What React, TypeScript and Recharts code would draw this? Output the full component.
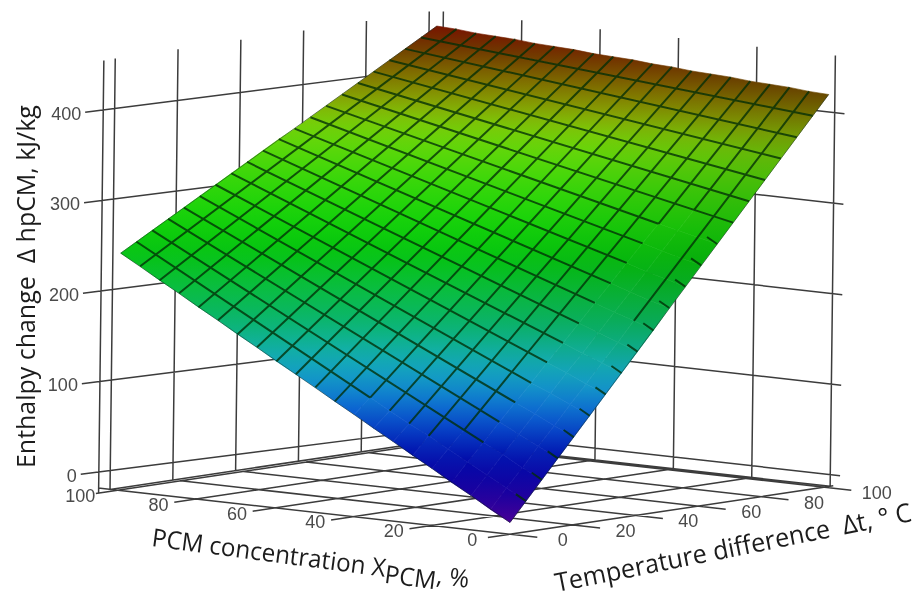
import React from 'react';
import { ScatterChart, Scatter, XAxis, YAxis } from 'recharts';

// grid of the surface, every 5 units
const concentration = [0, 5, 10, 15, 20, 25, 30, 35, 40, 45, 50, 55, 60, 65, 70, 75, 80, 85, 90, 95, 100];
const tempDiff = [0, 5, 10, 15, 20, 25, 30, 35, 40, 45, 50, 55, 60, 65, 70, 75, 80, 85, 90, 95, 100];

// enthalpy change, one row per concentration, one column per temperature difference
const enthalpy = [
  [0, 21, 42, 63, 84, 105, 126, 147, 168, 189, 211, 232, 253, 274, 295, 316, 337, 358, 379, 400, 421],
  [12, 33, 53, 74, 94, 115, 135, 156, 176, 197, 217, 238, 258, 279, 299, 320, 340, 361, 381, 402, 422],
  [25, 45, 65, 85, 105, 125, 145, 164, 184, 204, 224, 244, 264, 284, 304, 324, 344, 364, 384, 404, 424],
  [37, 57, 76, 96, 115, 134, 154, 173, 192, 212, 231, 251, 270, 289, 309, 328, 348, 367, 386, 406, 425],
  [50, 69, 87, 106, 125, 144, 163, 182, 200, 219, 238, 257, 276, 295, 313, 332, 351, 370, 389, 408, 426],
  [62, 81, 99, 117, 135, 154, 172, 190, 208, 227, 245, 263, 282, 300, 318, 336, 355, 373, 391, 410, 428],
  [75, 92, 110, 128, 146, 163, 181, 199, 216, 234, 252, 270, 287, 305, 323, 341, 358, 376, 394, 411, 429],
  [87, 104, 121, 139, 156, 173, 190, 207, 224, 242, 259, 276, 293, 310, 327, 345, 362, 379, 396, 413, 430],
  [100, 116, 133, 149, 166, 183, 199, 216, 232, 249, 266, 282, 299, 316, 332, 349, 365, 382, 399, 415, 432],
  [112, 128, 144, 160, 176, 192, 208, 224, 240, 257, 273, 289, 305, 321, 337, 353, 369, 385, 401, 417, 433],
  [125, 140, 156, 171, 187, 202, 218, 233, 249, 264, 280, 295, 311, 326, 342, 357, 373, 388, 404, 419, 435],
  [137, 152, 167, 182, 197, 212, 227, 242, 256, 271, 286, 301, 316, 331, 346, 361, 376, 391, 406, 421, 436],
  [149, 164, 178, 193, 207, 221, 236, 250, 265, 279, 293, 308, 322, 336, 351, 365, 380, 394, 408, 423, 437],
  [162, 176, 190, 203, 217, 231, 245, 259, 273, 286, 300, 314, 328, 342, 356, 369, 383, 397, 411, 425, 439],
  [174, 188, 201, 214, 227, 241, 254, 267, 281, 294, 307, 320, 334, 347, 360, 373, 387, 400, 413, 427, 440],
  [187, 199, 212, 225, 238, 250, 263, 276, 289, 301, 314, 327, 339, 352, 365, 378, 390, 403, 416, 429, 441],
  [199, 211, 224, 236, 248, 260, 272, 284, 297, 309, 321, 333, 345, 357, 370, 382, 394, 406, 418, 430, 443],
  [212, 223, 235, 247, 258, 270, 281, 293, 305, 316, 328, 339, 351, 363, 374, 386, 397, 409, 421, 432, 444],
  [224, 235, 246, 257, 268, 279, 290, 302, 313, 324, 335, 346, 357, 368, 379, 390, 401, 412, 423, 434, 445],
  [237, 247, 258, 268, 279, 289, 300, 310, 321, 331, 342, 352, 363, 373, 384, 394, 405, 415, 426, 436, 447],
  [249, 259, 269, 279, 289, 299, 309, 319, 329, 339, 349, 358, 368, 378, 388, 398, 408, 418, 428, 438, 448],
];

const enthalpyTicks = [0, 100, 200, 300, 400];
const floorTicks = [0, 20, 40, 60, 80, 100];

// colour against enthalpy
const colorStops: [number, number[]][] = [
  [0, [72, 0, 150]],
  [30, [20, 0, 160]],
  [60, [0, 10, 170]],
  [100, [10, 90, 210]],
  [130, [20, 150, 205]],
  [155, [20, 175, 180]],
  [185, [10, 180, 110]],
  [220, [10, 190, 60]],
  [250, [5, 195, 15]],
  [280, [20, 210, 10]],
  [315, [55, 215, 10]],
  [350, [100, 215, 10]],
  [370, [125, 200, 8]],
  [385, [135, 165, 5]],
  [400, [130, 130, 0]],
  [415, [125, 95, 0]],
  [430, [110, 60, 0]],
  [448, [120, 20, 0]],
];

const FLOOR = -13;
const TOP = 463;
const LEFT_WALL = 102;
const RIGHT_WALL = 102;
const AXIS = '#3c3c3c';

// 3D box to page pixels, the X and Y axes below are just the page
const project = (x: number, t: number, z: number) => ({
  sx: 510 - 3.92 * x + 3.14 * t + 0.011 * z,
  sy: 522.5 - 0.44 * x - 0.47 * t - 0.905 * z,
});

// the green part of the low concentration side is a bit darker in the original
const colorFor = (z: number, shade: number) => {
  const k2 = 1 - (1 - shade) * Math.max(0, Math.min(1, (z - 130) / 110));
  for (let i = 1; i < colorStops.length; i++) {
    const [z1, c1] = colorStops[i];
    if (z <= z1) {
      const [z0, c0] = colorStops[i - 1];
      const k = (z - z0) / (z1 - z0);
      const c = c0.map((v, j) => Math.round((v + (c1[j] - v) * k) * k2));
      return `rgb(${c[0]},${c[1]},${c[2]})`;
    }
  }
  return 'rgb(120,20,0)';
};

// surface cells, 4 corners each
const cellPoints: { sx: number; sy: number }[] = [];
const cellZ: number[][] = [];
const cellShade: number[] = [];
for (let i = 0; i < concentration.length - 1; i++) {
  for (let j = 0; j < tempDiff.length - 1; j++) {
    const corners: [number, number][] = [[i, j], [i + 1, j], [i + 1, j + 1], [i, j + 1]];
    cellZ.push(corners.map(([a, b]) => enthalpy[a][b]));
    cellShade.push(0.88 + 0.12 * Math.min(1, concentration[i] / 40));
    corners.forEach(([a, b]) => cellPoints.push(project(concentration[a], tempDiff[b], enthalpy[a][b])));
  }
}

const surfacePoint = (i: number, j: number) => project(concentration[i], tempDiff[j], enthalpy[i][j]);

// mesh lines, the mesh is missing near the low concentration edge of the original
const meshPoints: { sx: number; sy: number }[] = [];
const last = concentration.length - 1;
for (let j = 1; j < last; j++) {
  const t = tempDiff[j];
  const start = t >= 70 ? 0 : t >= 10 ? 3 : 8;
  if (t < 70) meshPoints.push(surfacePoint(0, j), project(2.6, t, enthalpy[0][j] + 6.5));
  meshPoints.push(surfacePoint(start, j), surfacePoint(last, j));
}
for (let i = 1; i < last; i++) {
  const x = concentration[i];
  const start = x === 5 ? 9 : x === 10 ? 14 : x === 15 ? 13 : x === 20 ? 2 : x <= 40 ? 1 : 0;
  meshPoints.push(surfacePoint(i, start), surfacePoint(i, last));
}

// thin outline on three sides of the surface
const edgePoints = [
  surfacePoint(last, 0), surfacePoint(last, last),
  surfacePoint(0, 0), surfacePoint(last, 0),
  surfacePoint(0, 0), surfacePoint(0, last),
];

// walls and floor
const wallPoints: { sx: number; sy: number }[] = [];
const seg = (a: number[], b: number[]) => wallPoints.push(project(a[0], a[1], a[2]), project(b[0], b[1], b[2]));
floorTicks.forEach((v) => {
  seg([LEFT_WALL, v, FLOOR], [LEFT_WALL, v, TOP]);
  seg([v, RIGHT_WALL, FLOOR], [v, RIGHT_WALL, TOP]);
  seg([v, -7, FLOOR], [v, 100, FLOOR]);
  seg([-7, v, FLOOR], [100, v, FLOOR]);
});
enthalpyTicks.forEach((z) => {
  seg([109.5, 0, z], [LEFT_WALL, 100, z]);
  seg([-2.5, RIGHT_WALL, z], [LEFT_WALL, RIGHT_WALL, z]);
});
seg([LEFT_WALL, 0, FLOOR], [LEFT_WALL, 100, FLOOR]);
seg([0, RIGHT_WALL, FLOOR], [100, RIGHT_WALL, FLOOR]);
seg([105, 0, FLOOR], [0, 0, FLOOR]);
seg([0, 0, FLOOR], [0, 103, FLOOR]);
seg([104.5, -0.5, -19], [104.5, -0.5, 460]);

// tick labels, placed off the box like the original
const tickLabels = [
  ...enthalpyTicks.map((z) => ({ ...project(110.5, 0, z - 2), text: String(z), anchor: 'end' })),
  ...floorTicks.map((v) => ({ ...project(v, -12, FLOOR), text: String(v), anchor: 'middle' })),
  ...floorTicks.map((v) => ({ ...project(-13.5, v, FLOOR), text: String(v), anchor: 'middle' })),
];

const SurfaceCells = ({ points }: any) => (
  <g>
    {cellZ.map((zs, n) => {
      const pts = points.slice(n * 4, n * 4 + 4);
      const ys = pts.map((p: any) => p.y);
      const top = Math.min(...ys);
      const bottom = Math.max(...ys);
      const id = `cell-${n}`;
      return (
        <g key={id}>
          <linearGradient id={id} gradientUnits="userSpaceOnUse" x1={0} x2={0} y1={top} y2={bottom}>
            <stop offset="0" stopColor={colorFor(Math.max(...zs), cellShade[n])} />
            <stop offset="1" stopColor={colorFor(Math.min(...zs), cellShade[n])} />
          </linearGradient>
          <polygon
            points={pts.map((p: any) => `${p.x},${p.y}`).join(' ')}
            fill={`url(#${id})`}
            stroke={`url(#${id})`}
            strokeWidth={0.6}
          />
        </g>
      );
    })}
  </g>
);

const Segments = ({ points, color, width }: any) => {
  let d = '';
  for (let i = 0; i + 1 < points.length; i += 2) {
    d += `M${points[i].x},${points[i].y}L${points[i + 1].x},${points[i + 1].y}`;
  }
  return <path d={d} fill="none" stroke={color} strokeWidth={width} />;
};

const NoDot = () => <g />;

const TickLabel = ({ cx, cy, payload }: any) => (
  <text x={cx} y={cy} dy={6} textAnchor={payload.anchor} fontFamily="Liberation Sans" fontSize={18} fill="#4a4a4a">
    {payload.text}
  </text>
);

const titleStyle = { fontFamily: 'Open Sans', fontSize: 26, fill: '#1c1c1c', style: { whiteSpace: 'pre' as const } };

export default function App() {
  return (
    <div style={{ position: 'absolute', left: 0, top: 0, width: 917, height: 601, filter: 'blur(0.5px)' }}>
      <ScatterChart width={917} height={601} margin={{ top: 0, right: 0, bottom: 0, left: 0 }}>
        <XAxis dataKey="sx" type="number" domain={[0, 917]} hide />
        <YAxis dataKey="sy" type="number" domain={[0, 601]} reversed hide />
        <Scatter
          data={wallPoints}
          isAnimationActive={false}
          shape={NoDot}
          line={(p: any) => <Segments points={p.points} color={AXIS} width={1.5} />}
        />
        <Scatter
          data={cellPoints}
          isAnimationActive={false}
          shape={NoDot}
          line={(p: any) => <SurfaceCells points={p.points} />}
        />
        <Scatter
          data={edgePoints}
          isAnimationActive={false}
          shape={NoDot}
          line={(p: any) => <Segments points={p.points} color="rgba(0,25,15,0.45)" width={1} />}
        />
        <Scatter
          data={meshPoints}
          isAnimationActive={false}
          shape={NoDot}
          line={(p: any) => <Segments points={p.points} color="rgba(0,45,5,0.78)" width={2} />}
        />
        <Scatter data={tickLabels} isAnimationActive={false} shape={TickLabel} />
        <text {...titleStyle} transform="translate(35,468) rotate(-90) scale(0.96,1)">
          Enthalpy change  Δ hpCM, kJ/kg
        </text>
        <text {...titleStyle} fontSize={25} transform="translate(151,546) rotate(7.5) scale(0.97,1)">
          PCM concentration X<tspan dy={6}>PCM</tspan>
          <tspan dy={-6}>, %</tspan>
        </text>
        <text {...titleStyle} transform="translate(557,592) rotate(-11.3) scale(0.97,1)">
          Temperature difference  Δt, ° C
        </text>
      </ScatterChart>
    </div>
  );
}
